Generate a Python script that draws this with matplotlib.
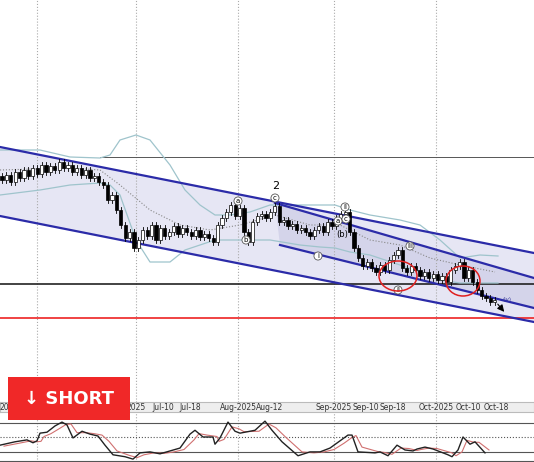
import matplotlib.pyplot as plt
from matplotlib.patches import Ellipse, Rectangle, Polygon

# --- data (price in chart units, top = high) ---
closes = [180, 175, 182, 172, 178, 170, 176, 168, 174, 165, 172, 166, 170, 162, 168,
          165, 172, 168, 175, 170, 178, 176, 182,
          185, 200, 195, 210, 225, 238, 232, 248,
          240, 230, 236, 225, 240, 228, 236, 232,
          226, 234, 228, 232, 236, 230, 237, 234,
          238, 242, 225, 218, 212, 205, 216, 208,
          232, 242, 222, 216, 214, 218, 212, 206,
          222, 220, 226, 224, 230, 228, 232, 236,
          230, 226, 232, 222, 226, 218, 214, 212,
          232, 248, 258, 266, 262, 268, 272,
          265, 270, 260, 255, 250, 268, 272, 266,
          270, 276, 272, 278, 274, 280, 276, 282,
          270, 266, 262, 278, 270, 282, 290, 296,
          298, 302, 300]
first_open = 176

bb_x = [0, 40, 70, 100, 110, 120, 136, 150, 170, 185, 200, 215, 230, 250, 270, 300, 320,
        335, 350, 370, 400, 420, 440, 460, 480, 498]
bb_up = [150, 150, 157, 158, 155, 140, 135, 140, 165, 190, 205, 215, 215, 212, 205, 205,
         205, 205, 210, 215, 220, 225, 240, 258, 255, 256]
bb_lo = [195, 190, 185, 183, 185, 195, 240, 262, 262, 250, 245, 240, 240, 240, 240, 245,
         247, 248, 252, 255, 265, 272, 280, 283, 283, 283]
mid_x = [0, 70, 100, 120, 150, 180, 210, 240, 275, 310, 340, 370, 400, 430, 460, 495]
mid = [170, 168, 170, 185, 210, 225, 230, 225, 215, 225, 225, 240, 245, 258, 265, 272]

st_x = [0, 15, 27, 33, 37, 40, 47, 55, 62, 67, 73, 82, 90, 98, 105, 113, 125, 133, 140, 150,
        160, 170, 180, 190, 195, 203, 213, 215, 220, 228, 235, 240, 255, 265, 272, 282, 298,
        310, 320, 330, 340, 348, 352, 358, 375, 380, 388, 397, 405, 413, 417, 425, 433, 448,
        452, 458, 463, 470, 475, 485]
stoch = [34, 41, 45, 39, 43, 59, 61, 74, 82, 76, 49, 63, 57, 53, 34, 14, 10, 5, 18, 20,
         16, 22, 28, 57, 65, 51, 51, 36, 49, 82, 63, 59, 65, 84, 65, 41, 12, 20, 20, 28,
         43, 55, 55, 20, 18, 20, 12, 34, 24, 22, 26, 30, 26, 14, 10, 24, 51, 36, 41, 18]
sig = [32, 38, 43, 41, 42, 52, 58, 68, 77, 78, 60, 60, 58, 55, 42, 22, 13, 8, 14, 18,
       17, 20, 25, 45, 58, 55, 52, 42, 46, 72, 68, 62, 63, 78, 70, 50, 20, 18, 20, 25,
       38, 50, 54, 30, 20, 19, 15, 28, 27, 23, 25, 28, 27, 18, 12, 20, 44, 40, 40, 24]

tick_pos = [0, 136, 163, 190, 238, 270, 334, 366, 393, 436, 468, 496]
tick_lab = ["20", "2025", "Jul-10", "Jul-18", "Aug-2025", "Aug-12", "Sep-2025", "Sep-10",
            "Sep-18", "Oct-2025", "Oct-10", "Oct-18"]
grid_pos = [37, 136, 238, 334, 436]

fig = plt.figure(figsize=(5.34, 4.62), dpi=100)
ax = fig.add_axes([0, 60 / 462, 1, 402 / 462])
ax.set_xlim(0, 534)
ax.set_ylim(402, 0)
ax.axis('off')

# channels
ax.add_patch(Polygon([(0, 147), (534, 253), (534, 322), (0, 216)], closed=True,
                     facecolor='#e6e6f4', edgecolor='none', zorder=0))
ax.add_patch(Polygon([(275, 203), (534, 278), (534, 308), (280, 245)], closed=True,
                     facecolor='#d4d4ea', edgecolor='none', zorder=0))
for (x0, y0, x1, y1) in [(0, 147, 534, 253), (0, 216, 534, 322),
                         (275, 203, 534, 278), (280, 245, 534, 308)]:
    ax.plot([x0, x1], [y0, y1], color='#2b2ba8', lw=1.6, zorder=3)

for g in grid_pos:
    ax.axvline(g, color='#aaaaaa', ls=':', lw=0.8, zorder=0)

ax.plot([100, 534], [157, 157], color='#555555', lw=0.7, zorder=1)
ax.axhline(284, color='#222222', lw=1.2, zorder=1)
ax.axhline(318, color='#ee2222', lw=1.2, zorder=1)

ax.plot(bb_x, bb_up, color='#9fc4cc', lw=0.9, zorder=2)
ax.plot(bb_x, bb_lo, color='#9fc4cc', lw=0.9, zorder=2)
ax.plot(mid_x, mid, color='#888888', ls=':', lw=0.8, zorder=2)

# candles
prev = first_open
for i, c in enumerate(closes):
    x = 2 + 4.4 * i
    o = prev
    hi, lo = min(o, c) - 3, max(o, c) + 3
    ax.plot([x, x], [hi, lo], color='black', lw=0.6, zorder=4)
    bull = c < o  # going up on screen
    ax.add_patch(Rectangle((x - 1.6, min(o, c)), 3.2, max(abs(o - c), 0.8),
                           facecolor='white' if bull else 'black', edgecolor='black',
                           lw=0.5, zorder=5))
    prev = c

# wave labels
ax.text(276, 186, "2", fontsize=8, ha='center', va='center')
for (x, y, t) in [(275, 198, "c"), (238, 201, "a"), (246, 240, "b"), (318, 256, "i"),
                  (345, 207, "ii"), (338, 221, "a"), (346, 219, "c"), (410, 246, "iii"),
                  (398, 290, "ii")]:
    ax.text(x, y, t, fontsize=5, ha='center', va='center',
            bbox=dict(boxstyle='circle,pad=0.15', fc='white', ec='#555555', lw=0.6), zorder=6)
ax.text(342, 235, "(b)", fontsize=6, ha='center', va='center', zorder=6)
ax.text(507, 300, "(iv)", fontsize=4, ha='center', va='center', color='#333399', zorder=6)
ax.add_patch(Ellipse((398, 276), 38, 30, fill=False, ec='#e02020', lw=1.1, zorder=6))
ax.add_patch(Ellipse((463, 281), 34, 30, fill=False, ec='#e02020', lw=1.1, zorder=6))
ax.annotate("", xy=(506, 314), xytext=(496, 302),
            arrowprops=dict(arrowstyle='-|>', color='black', lw=0.8), zorder=6)

# date strip
dax = fig.add_axes([0, 50 / 462, 1, 10 / 462])
dax.set_xlim(0, 534)
dax.set_ylim(0, 1)
dax.set_facecolor('#eeeeee')
dax.set_yticks([])
dax.set_xticks([])
for s in dax.spines.values():
    s.set_color('#bbbbbb')
for p, l in zip(tick_pos, tick_lab):
    dax.text(p, 0.45, l, fontsize=5.5, ha='left' if p == 0 else 'center', va='center',
             color='#333333')

# stochastic
sax = fig.add_axes([0, 0, 1, 50 / 462])
sax.set_xlim(0, 534)
sax.set_ylim(-1, 103)
sax.axis('off')
for g in grid_pos:
    sax.axvline(g, color='#aaaaaa', ls=':', lw=0.8)
sax.axhline(80, color='#555555', lw=0.8)
sax.axhline(20, color='#555555', lw=0.8)
sax.axhline(50, color='#555555', ls=':', lw=0.8)
sax.axhline(0.5, color='#555555', lw=0.8)
sax.plot([x + 4 for x in st_x], sig, color='#d07070', lw=0.8)
sax.plot(st_x, stoch, color='#222222', lw=1.0)

# SHORT badge
bax = fig.add_axes([8 / 534, 42 / 462, 122 / 534, 43 / 462])
bax.set_facecolor('#f02828')
bax.set_xticks([])
bax.set_yticks([])
for s in bax.spines.values():
    s.set_visible(False)
bax.text(0.5, 0.5, "\u2193 SHORT", color='white', fontsize=13, fontweight='bold',
         ha='center', va='center', transform=bax.transAxes)

fig.savefig("out.png", dpi=100)
